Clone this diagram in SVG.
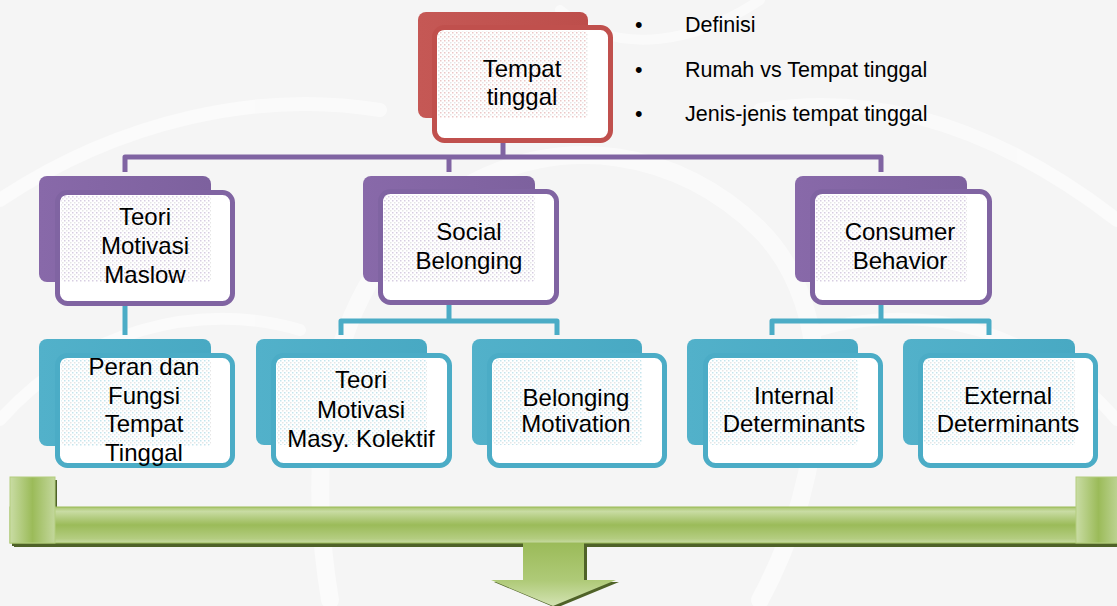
<svg xmlns="http://www.w3.org/2000/svg" width="1117" height="606" viewBox="0 0 1117 606">
<style>
  .t{font-family:"Liberation Sans",Arial,sans-serif;font-size:24px;fill:#000;text-anchor:middle}
  .b{font-family:"Liberation Sans",Arial,sans-serif;font-size:21.5px;fill:#000}
  .red .back{fill:url(#gRed)} .red .front{fill:#fff;stroke:#C0504D;stroke-width:5}
  .pur .back{fill:url(#gPur)} .pur .front{fill:#fff;stroke:#8064A2;stroke-width:5}
  .blu .back{fill:url(#gBlu)} .blu .front{fill:#fff;stroke:#4BACC6;stroke-width:5}
  .cp{fill:none;stroke:#8064A2;stroke-width:5;stroke-linejoin:round}
  .cb{fill:none;stroke:#4BACC6;stroke-width:5;stroke-linejoin:round}
  .sh{fill:#4F6228}
</style>
<defs>
  <linearGradient id="gRed" x1="0" y1="0" x2="1" y2="0"><stop offset="0" stop-color="#C55855"/><stop offset="1" stop-color="#BD4E4B"/></linearGradient>
  <linearGradient id="gPur" x1="0" y1="0" x2="1" y2="0"><stop offset="0" stop-color="#8869A9"/><stop offset="1" stop-color="#7D619E"/></linearGradient>
  <linearGradient id="gBlu" x1="0" y1="0" x2="1" y2="0"><stop offset="0" stop-color="#52B1CA"/><stop offset="1" stop-color="#48A9C3"/></linearGradient>
  <pattern id="pRed" width="4" height="4" patternUnits="userSpaceOnUse"><rect width="4" height="4" fill="#fff"/><rect x="0" y="0" width="1.5" height="1.5" fill="#C0504D" opacity="0.32"/><rect x="2" y="2" width="1.5" height="1.5" fill="#999" opacity="0.25"/></pattern>
  <pattern id="pPur" width="4" height="4" patternUnits="userSpaceOnUse"><rect width="4" height="4" fill="#fff"/><rect x="0" y="0" width="1.5" height="1.5" fill="#8064A2" opacity="0.32"/><rect x="2" y="2" width="1.5" height="1.5" fill="#999" opacity="0.25"/></pattern>
  <pattern id="pBlu" width="4" height="4" patternUnits="userSpaceOnUse"><rect width="4" height="4" fill="#fff"/><rect x="0" y="0" width="1.5" height="1.5" fill="#4BACC6" opacity="0.32"/><rect x="2" y="2" width="1.5" height="1.5" fill="#999" opacity="0.25"/></pattern>
  <linearGradient id="gBar" x1="0" y1="0" x2="0" y2="1"><stop offset="0" stop-color="#A9C56E"/><stop offset="0.12" stop-color="#C9DCA4"/><stop offset="0.5" stop-color="#9BBB59"/><stop offset="0.88" stop-color="#B4CD81"/><stop offset="1" stop-color="#C8DBA3"/></linearGradient>
  <linearGradient id="gCap" x1="0" y1="0" x2="1" y2="0"><stop offset="0" stop-color="#C9DCA4"/><stop offset="0.5" stop-color="#9BBB59"/><stop offset="1" stop-color="#C3D79C"/></linearGradient>
  <linearGradient id="gArr" x1="0" y1="0" x2="0" y2="1"><stop offset="0" stop-color="#9BBB59"/><stop offset="0.6" stop-color="#AFCA78"/><stop offset="1" stop-color="#D3E3B3"/></linearGradient>
</defs>
<rect width="1117" height="606" fill="#F5F5F5"/>
<g id="watermark" fill="none" stroke="#FFFFFF" stroke-linecap="round" opacity="0.55">
  <path d="M330 600 C300 420 340 260 460 190 C560 130 680 150 760 230 C840 310 830 470 760 600" stroke-width="18"/>
  <path d="M0 200 C120 120 260 90 380 110" stroke-width="14"/>
  <path d="M1117 220 C1000 130 880 90 760 110" stroke-width="14"/>
  <path d="M0 420 C80 330 200 300 300 330" stroke-width="12"/>
  <path d="M1117 420 C1040 330 920 300 820 330" stroke-width="12"/>
  <path d="M560 10 C620 60 700 40 760 0" stroke-width="10"/>
</g>
<g id="connectors">
  <path class="cp" d="M503 143 V157"/>
  <path class="cp" d="M125 172 V157 H881 V172"/>
  <path class="cp" d="M449 157 V172"/>
  <path class="cb" d="M125 306 V335"/>
  <path class="cb" d="M449 305 V321"/>
  <path class="cb" d="M341 335 V321 H557 V335"/>
  <path class="cb" d="M881 305 V321"/>
  <path class="cb" d="M772 335 V321 H989 V335"/>
</g>
<g id="n_tempat" class="red">
  <rect class="back" x="418" y="12" width="170" height="106" rx="8"/>
  <rect class="front" x="434.5" y="27.5" width="176" height="113" rx="10"/>
  <rect x="438" y="31" width="150" height="87" rx="4" fill="url(#pRed)"/>
  <text class="t" x="522" y="77">Tempat</text>
  <text class="t" x="522" y="105">tinggal</text>
</g>
<g id="bullets">
  <text class="b" x="635" y="32">•</text><text class="b" x="685" y="32">Definisi</text>
  <text class="b" x="635" y="77">•</text><text class="b" x="685" y="77">Rumah vs Tempat tinggal</text>
  <text class="b" x="635" y="121">•</text><text class="b" x="685" y="121">Jenis-jenis tempat tinggal</text>
</g>
<g id="n_maslow" class="pur">
  <rect class="back" x="39" y="176" width="172" height="106" rx="8"/>
  <rect class="front" x="57.5" y="192.5" width="175" height="111" rx="10"/>
  <rect x="61" y="196" width="150" height="86" rx="4" fill="url(#pPur)"/>
  <text class="t" x="145" y="225">Teori</text>
  <text class="t" x="145" y="254">Motivasi</text>
  <text class="t" x="145" y="283">Maslow</text>
</g>
<g id="n_social" class="pur">
  <rect class="back" x="363" y="176" width="172" height="106" rx="8"/>
  <rect class="front" x="380.5" y="191.5" width="176" height="111" rx="10"/>
  <rect x="384" y="195" width="151" height="87" rx="4" fill="url(#pPur)"/>
  <text class="t" x="469" y="240">Social</text>
  <text class="t" x="469" y="269">Belonging</text>
</g>
<g id="n_consumer" class="pur">
  <rect class="back" x="795" y="176" width="172" height="106" rx="8"/>
  <rect class="front" x="812.5" y="191.5" width="177" height="111" rx="10"/>
  <rect x="816" y="195" width="151" height="87" rx="4" fill="url(#pPur)"/>
  <text class="t" x="900" y="240">Consumer</text>
  <text class="t" x="900" y="269">Behavior</text>
</g>
<g id="n_peran" class="blu">
  <rect class="back" x="39" y="339" width="172" height="107" rx="8"/>
  <rect class="front" x="57.5" y="355.5" width="175" height="110" rx="10"/>
  <rect x="61" y="359" width="150" height="87" rx="4" fill="url(#pBlu)"/>
  <text class="t" x="144" y="375">Peran dan</text>
  <text class="t" x="144" y="404">Fungsi</text>
  <text class="t" x="144" y="432">Tempat</text>
  <text class="t" x="144" y="461">Tinggal</text>
</g>
<g id="n_kolektif" class="blu">
  <rect class="back" x="256" y="339" width="171" height="106" rx="8"/>
  <rect class="front" x="273.5" y="355.5" width="176" height="110" rx="10"/>
  <rect x="277" y="359" width="150" height="86" rx="4" fill="url(#pBlu)"/>
  <text class="t" x="361" y="388">Teori</text>
  <text class="t" x="361" y="418">Motivasi</text>
  <text class="t" x="361" y="447">Masy. Kolektif</text>
</g>
<g id="n_belonging" class="blu">
  <rect class="back" x="472" y="339" width="170" height="106" rx="8"/>
  <rect class="front" x="489.5" y="355.5" width="175" height="110" rx="10"/>
  <rect x="493" y="359" width="149" height="86" rx="4" fill="url(#pBlu)"/>
  <text class="t" x="576" y="406">Belonging</text>
  <text class="t" x="576" y="432">Motivation</text>
</g>
<g id="n_internal" class="blu">
  <rect class="back" x="687" y="339" width="171" height="106" rx="8"/>
  <rect class="front" x="705.5" y="355.5" width="175" height="110" rx="10"/>
  <rect x="709" y="359" width="149" height="86" rx="4" fill="url(#pBlu)"/>
  <text class="t" x="794" y="404">Internal</text>
  <text class="t" x="794" y="432">Determinants</text>
</g>
<g id="n_external" class="blu">
  <rect class="back" x="903" y="339" width="172" height="106" rx="8"/>
  <rect class="front" x="920.5" y="355.5" width="175" height="110" rx="10"/>
  <rect x="924" y="359" width="151" height="86" rx="4" fill="url(#pBlu)"/>
  <text class="t" x="1008" y="404">External</text>
  <text class="t" x="1008" y="432">Determinants</text>
</g>
<g id="bracket_arrow">
  <rect class="sh" x="14" y="511" width="1103" height="36"/>
  <rect class="sh" x="12" y="480" width="45" height="66"/>
  <polygon class="sh" points="526,545 587,545 587,582 619,582 556,608 494,582 526,582"/>
  <rect x="10" y="507" width="1107" height="36" fill="url(#gBar)" stroke="#9BBB59" stroke-width="1"/>
  <rect x="10" y="477" width="45" height="66" fill="url(#gCap)" stroke="#B3CD7E" stroke-width="1"/>
  <rect x="1076" y="477" width="45" height="66" fill="url(#gCap)" stroke="#B3CD7E" stroke-width="1"/>
  <polygon points="523,543 584,543 584,580 616,580 553,606 491,580 523,580" fill="url(#gArr)"/>
</g>
</svg>
